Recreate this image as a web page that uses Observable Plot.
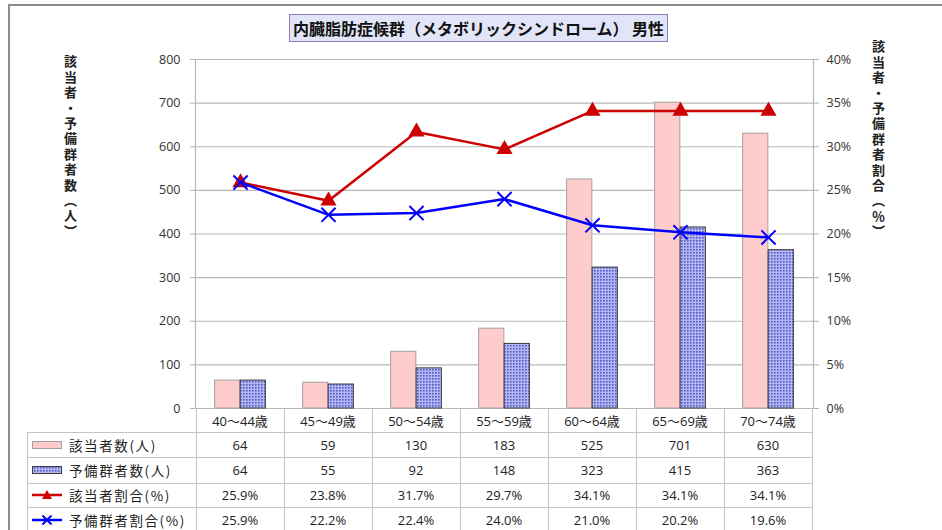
<!DOCTYPE html>
<html><head><meta charset="utf-8">
<script src="https://cdn.jsdelivr.net/npm/d3@7"></script>
<script src="https://cdn.jsdelivr.net/npm/@observablehq/plot@0.6"></script>
<style>
html,body{margin:0;padding:0;background:#fff;overflow:hidden;}
#root{position:relative;width:942px;height:530px;font-family:"Noto Sans CJK JP","Noto Sans",sans-serif;color:#222;}
#root > svg{position:absolute;left:0;top:0;}
.abs{position:absolute;}
.vlabel{position:absolute;writing-mode:vertical-rl;font-size:13px;font-weight:bold;letter-spacing:2.4px;color:#222;}
.cell{position:absolute;display:flex;align-items:center;justify-content:center;white-space:nowrap;font-size:13px;font-family:"Open Sans","Noto Sans CJK JP",sans-serif;color:#222;}
.hl{position:absolute;height:1px;background:#c4c4c4;}
.vl{position:absolute;width:1px;background:#c4c4c4;}
</style></head>
<body><div id="root"></div>
<script>
const title = "内臓脂肪症候群（メタボリックシンドローム） 男性";
const leftAxisLabel = "該当者・予備群者数（人）";
const rightAxisLabel = "該当者・予備群者割合（％）";
const categories = ["40～44歳","45～49歳","50～54歳","55～59歳","60～64歳","65～69歳","70～74歳"];
const gaitoCount = [64,59,130,183,525,701,630];
const yobiCount = [64,55,92,148,323,415,363];
const gaitoRate = [25.9,23.8,31.7,29.7,34.1,34.1,34.1];
const yobiRate = [25.9,22.2,22.4,24.0,21.0,20.2,19.6];
const countTicks = [0,100,200,300,400,500,600,700,800];
const rateTicks = [0,5,10,15,20,25,30,35,40];
const seriesLabels = ["該当者数(人)","予備群者数(人)","該当者割合(%)","予備群者割合(%)"];

const rateToCount = 800 / 40; // right axis 0–40% spans left axis 0–800
const rows = categories.map((c,i)=>({cat:c, gc:gaitoCount[i], yc:yobiCount[i], gr:gaitoRate[i], yr:yobiRate[i]}));

const W = 942, H = 530;
const bandW = (942 - 195 - 129) / categories.length;
const barW = 25.5;

const plot = Plot.plot({
  width: W, height: H,
  marginTop: 59, marginBottom: 122, marginLeft: 195, marginRight: 129,
  x: {domain: categories, padding: 0, axis: null},
  y: {domain: [0, 800], axis: null},
  style: {fontFamily: "'Open Sans','Noto Sans',sans-serif", fontSize: "12.5px", color: "#333", background: "transparent"},
  marks: [
    Plot.gridY(countTicks, {stroke: "#b8b8b8", strokeOpacity: 1, strokeWidth: 1.2}),
    Plot.frame({anchor: "left", stroke: "#b8b8b8", strokeWidth: 1.2}),
    Plot.frame({anchor: "right", stroke: "#b8b8b8", strokeWidth: 1.2}),
    Plot.axisY(countTicks, {anchor: "left", tickSize: 5, tickPadding: 10, stroke: "#b0b0b0", fill: "#333"}),
    Plot.axisY(rateTicks.map(r => r * rateToCount), {anchor: "right", tickSize: 5, tickPadding: 8, stroke: "#b0b0b0", fill: "#333", tickFormat: d => (d / rateToCount) + "%"}),
    Plot.barY(rows, {x: "cat", y: "gc", fill: "#ffcccc", stroke: "#a0a0a0", strokeWidth: 1,
      insetLeft: bandW/2 - barW, insetRight: bandW/2}),
    Plot.barY(rows, {x: "cat", y: "yc", fill: "url(#dotpat)", stroke: "#3a3a3a", strokeWidth: 1,
      insetLeft: bandW/2, insetRight: bandW/2 - barW}),
    Plot.lineY(rows, {x: "cat", y: d => d.gr * rateToCount, stroke: "#cc0000", strokeWidth: 2.5}),
    Plot.dot(rows, {x: "cat", y: d => d.gr * rateToCount, symbol: "triangle", fill: "#cc0000", r: 6}),
    Plot.lineY(rows, {x: "cat", y: d => d.yr * rateToCount, stroke: "#0000ff", strokeWidth: 2.5}),
    Plot.dot(rows, {x: "cat", y: d => d.yr * rateToCount, symbol: "times", stroke: "#0000ff", strokeWidth: 2, r: 6.5})
  ]
});

// dotted pattern for 予備群者数 bars
const ns = "http://www.w3.org/2000/svg";
const defs = document.createElementNS(ns, "defs");
defs.innerHTML = '<pattern id="dotpat" width="3" height="3" patternUnits="userSpaceOnUse">' +
  '<rect width="3" height="3" fill="#b4b8f2"/><rect width="1.6" height="1.6" fill="#5656cc"/></pattern>';
plot.insertBefore(defs, plot.firstChild);

const root = document.getElementById("root");
root.appendChild(plot);

function div(cls, css, html) {
  const d = document.createElement("div");
  d.className = cls;
  Object.assign(d.style, css);
  if (html != null) d.innerHTML = html;
  root.appendChild(d);
  return d;
}

// outer chart border
div("abs", {left: "8px", top: "4px", width: "940px", height: "540px", borderTop: "2px solid #8c8c8c", borderLeft: "2px solid #8c8c8c"});

// title box
div("abs", {left: "289px", top: "14px", width: "377px", height: "26px", background: "#e2e5f7", border: "1.5px solid #9878b8",
  display: "flex", alignItems: "center", justifyContent: "center", fontSize: "16px", fontWeight: "bold", color: "#111"}, title);

// axis titles
div("vlabel", {left: "61px", top: "55px"}, leftAxisLabel);
div("vlabel", {left: "869px", top: "40px"}, rightAxisLabel);

// data table
const xs = plot.scale("x"), ys = plot.scale("y");
const tableTop = ys.apply(0);
const x0 = xs.apply(categories[0]);
const xEnd = xs.apply(categories[categories.length - 1]) + xs.bandwidth;
const legendLeft = 27;
const rowTops = [tableTop, tableTop + 24, tableTop + 49, tableTop + 75, tableTop + 99];
const rowH = [24, 25, 26, 24, 25];

// horizontal lines
for (let r = 1; r < rowTops.length; r++) div("hl", {left: legendLeft + "px", top: rowTops[r] + "px", width: (xEnd - legendLeft) + "px"});
// vertical lines
div("vl", {left: legendLeft + "px", top: rowTops[1] + "px", height: (H - rowTops[1]) + "px"});
categories.forEach(c => div("vl", {left: (xs.apply(c) + xs.bandwidth) + "px", top: tableTop + "px", height: (H - tableTop) + "px"}));
div("vl", {left: x0 + "px", top: tableTop + "px", height: (H - tableTop) + "px"});

// header row
categories.forEach(c => div("cell", {left: xs.apply(c) + "px", top: rowTops[0] + "px", width: xs.bandwidth + "px", height: rowH[0] + "px"}, c));

const swatches = [
  '<svg width="32" height="12"><rect x="1.5" y="2.5" width="29" height="7" fill="#ffcccc" stroke="#a0a0a0"/></svg>',
  '<svg width="32" height="12"><rect x="1.5" y="2.5" width="29" height="7" fill="url(#dotpat)" stroke="#3a3a3a"/></svg>',
  '<svg width="32" height="12"><line x1="1" y1="6" x2="31" y2="6" stroke="#cc0000" stroke-width="2.5"/><path d="M16,1 L21,10 L11,10 Z" fill="#cc0000"/></svg>',
  '<svg width="32" height="12"><line x1="1" y1="6" x2="31" y2="6" stroke="#0000ff" stroke-width="2.5"/><path d="M11.5,1.5 L20.5,10.5 M20.5,1.5 L11.5,10.5" stroke="#0000ff" stroke-width="2"/></svg>'
];
const values = [
  gaitoCount.map(String),
  yobiCount.map(String),
  gaitoRate.map(v => v.toFixed(1) + "%"),
  yobiRate.map(v => v.toFixed(1) + "%")
];
values.forEach((vals, s) => {
  const top = rowTops[s + 1], h = rowH[s + 1];
  div("cell", {left: (legendLeft + 4) + "px", top: top + "px", width: (x0 - legendLeft - 4) + "px", height: h + "px", justifyContent: "flex-start",
    fontFamily: "'Noto Sans CJK JP',sans-serif", fontSize: "13.5px", letterSpacing: "1.6px"},
    '<span style="display:inline-flex;margin-right:6px">' + swatches[s] + '</span><span>' + seriesLabels[s] + '</span>');
  vals.forEach((v, i) => div("cell", {left: xs.apply(categories[i]) + "px", top: top + "px", width: xs.bandwidth + "px", height: h + "px"}, v));
});
</script>
</body></html>
